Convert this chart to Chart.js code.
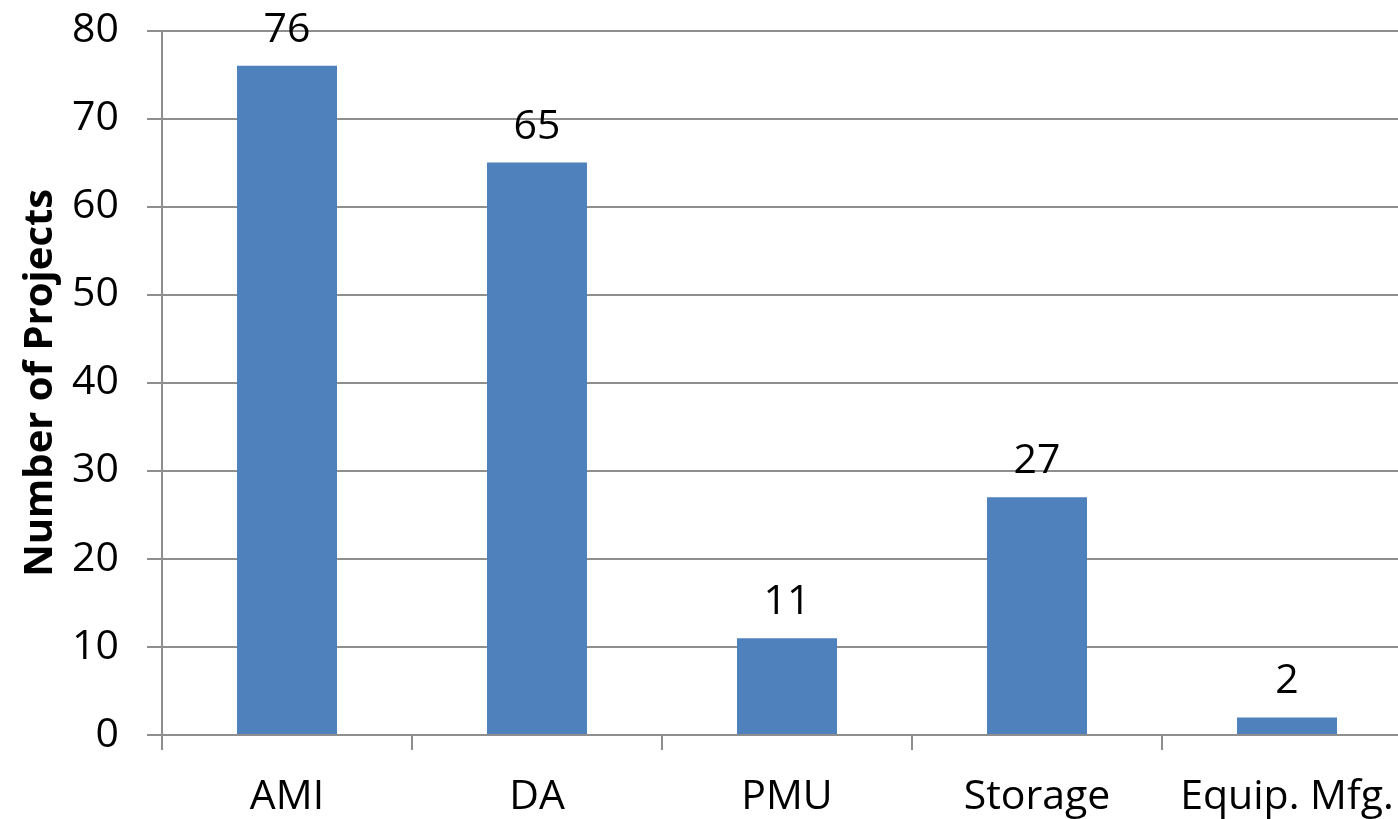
<!DOCTYPE html>
<html>
<head>
<meta charset="utf-8">
<script src="https://cdn.jsdelivr.net/npm/chart.js@4/dist/chart.umd.min.js"></script>
<style>
  html, body { margin: 0; padding: 0; background: #fff; overflow: hidden; }
  #wrap { width: 1412px; height: 819px; }
</style>
</head>
<body>
<div id="wrap"><canvas id="c" width="1412" height="819"></canvas></div>
<script>
// Smart-grid project counts by technology area
const categories = ['AMI', 'DA', 'PMU', 'Storage', 'Equip. Mfg.'];
const projectCounts = [76, 65, 11, 27, 2];
const yTicks = [0, 10, 20, 30, 40, 50, 60, 70, 80];
const yTitle = 'Number of Projects';

const FONT = "'Open Sans', 'DejaVu Sans', sans-serif";
const GRID = '#8e8e8e';

// Value labels written above each bar
const barValueLabels = {
  id: 'barValueLabels',
  afterDatasetsDraw(chart) {
    const ctx = chart.ctx;
    const meta = chart.getDatasetMeta(0);
    const data = chart.data.datasets[0].data;
    ctx.save();
    ctx.font = '41px ' + FONT;
    ctx.fillStyle = '#000';
    ctx.textAlign = 'center';
    ctx.textBaseline = 'alphabetic';
    meta.data.forEach((bar, i) => {
      ctx.fillText(String(data[i]), bar.x, bar.y - 24);
    });
    ctx.restore();
  }
};

new Chart(document.getElementById('c'), {
  type: 'bar',
  data: {
    labels: categories,
    datasets: [{
      data: projectCounts,
      backgroundColor: '#4f81bd',
      borderWidth: 0,
      barPercentage: 0.4,
      categoryPercentage: 1.0
    }]
  },
  options: {
    responsive: false,
    devicePixelRatio: 1,
    animation: false,
    layout: { padding: { top: 30.5, right: 0, left: 0, bottom: 0 } },
    plugins: { legend: { display: false }, tooltip: { enabled: false } },
    scales: {
      x: {
        offset: true,
        grid: {
          offset: true,
          drawOnChartArea: false,
          drawTicks: true,
          tickLength: 15,
          color: GRID,
          lineWidth: 2
        },
        border: { display: true, color: GRID, width: 2 },
        ticks: {
          color: '#000',
          font: { family: FONT, size: 41 },
          padding: 23,
          maxRotation: 0,
          autoSkip: false
        },
        afterFit(scale) {
          scale.height = 84;
          scale.paddingLeft = 0;
          scale.paddingRight = 0;
        }
      },
      y: {
        min: 0,
        max: 80,
        afterBuildTicks(scale) { scale.ticks = yTicks.map(v => ({ value: v })); },
        grid: {
          color: GRID,
          lineWidth: 2,
          tickLength: 15,
          drawTicks: true
        },
        border: { display: true, color: GRID, width: 2 },
        ticks: {
          color: '#000',
          font: { family: FONT, size: 41 },
          padding: 28
        },
        title: {
          display: true,
          text: yTitle,
          color: '#000',
          font: { family: FONT, size: 40, weight: 'bold' },
          padding: { top: 17, bottom: 0 }
        },
        afterFit(scale) {
          scale.width = 162;
          scale.paddingTop = 0;
          scale.paddingBottom = 0;
        }
      }
    }
  },
  plugins: [barValueLabels]
});
</script>
</body>
</html>
